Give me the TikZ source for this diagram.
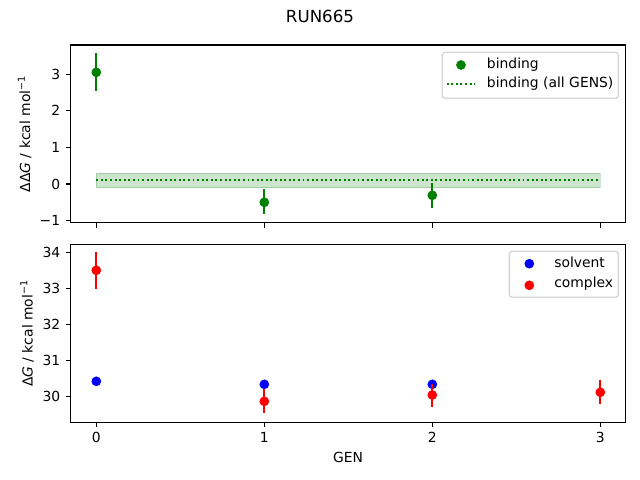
\documentclass[tikz,border=0pt]{standalone}
\usepackage{fontspec}
\setmainfont{DejaVu Sans}
\definecolor{mplgreen}{HTML}{008000}
\definecolor{mplblue}{HTML}{0000FF}
\definecolor{mplred}{HTML}{FF0000}
\definecolor{legedge}{HTML}{D6D6D6}
\tikzset{
  frame/.style={draw=black, line width=0.8pt},
  tick/.style={draw=black, line width=0.8pt},
  ylab/.style={anchor=east, inner sep=0pt, font=\fontsize{10}{12}\selectfont},
  xlab/.style={anchor=north, inner sep=0pt, font=\fontsize{10}{12}\selectfont},
  txt/.style={inner sep=0pt, font=\fontsize{10}{12}\selectfont},
  dot/.style={circle, fill=#1, draw=none, minimum size=7pt, inner sep=0pt},
  ebar/.style={draw=#1, line width=1.5pt},
  legbox/.style={draw=legedge, line width=1pt, fill=white, fill opacity=0.8, rounded corners=2pt},
  dotline/.style={draw=mplgreen, line width=1.5pt, dash pattern=on 1.4pt off 1.9pt},
}
\begin{document}
\begin{tikzpicture}[x=0.72pt, y=-0.72pt]
\useasboundingbox (0,0) rectangle (640,480);
\fill[white] (0,0) rectangle (640,480);

% title
\node[txt, font=\fontsize{12}{14}\selectfont] (title) at (320,16.5) {RUN665};

% ===== top axes =====
\coordinate (t0) at (70.4,45);
\coordinate (t1) at (625.6,222.7);
% band and mean
\fill[mplgreen, fill opacity=0.2] (96.3,173.3) rectangle (600.3,187.7);
\draw[mplgreen, draw opacity=0.2, line width=1pt] (96.3,173.3) rectangle (600.3,187.7);
\coordinate (mA) at (96.3,180);
\coordinate (mB) at (600.3,180);
\draw[dotline] (mA) -- (mB);
% error bars
\coordinate (ta0) at (96.3,53.3);  \coordinate (tb0) at (96.3,90.7);
\coordinate (ta1) at (264.3,189);  \coordinate (tb1) at (264.3,214.3);
\coordinate (ta2) at (432.3,183);  \coordinate (tb2) at (432.3,207.7);
\draw[ebar=mplgreen] (ta0) -- (tb0);
\draw[ebar=mplgreen] (ta1) -- (tb1);
\draw[ebar=mplgreen] (ta2) -- (tb2);
\node[dot=mplgreen] (tp0) at (96.3,72.3) {};
\node[dot=mplgreen] (tp1) at (264.3,202.3) {};
\node[dot=mplgreen] (tp2) at (432.3,195.3) {};
% frame
\draw[frame] (t0) rectangle (t1);
% y ticks
\foreach \v/\lab in {3/3,2/2,1/1,0/0,-1/−1}{
  \pgfmathsetmacro{\yy}{184-36.6*\v}
  \draw[tick] (70.4,\yy) -- (65.54,\yy);
  \node[ylab] (tyl\v) at (60.5,\yy) {\lab};
}
% x ticks (no labels)
\foreach \g in {0,1,2,3}{
  \pgfmathsetmacro{\xx}{96.3+168*\g}
  \draw[tick] (\xx,222.7) -- (\xx,227.56);
}
% y label
\node[txt, rotate=90, anchor=base] (tylabel) at (30,133.9) {ΔΔ\textit{G} / kcal mol\textsuperscript{−1}};
% legend
\draw[legbox] (442.3,52.3) rectangle (618.3,98.3);
\node[dot=mplgreen] (lg1) at (461,65) {};
\node[txt, anchor=west] (lgt1) at (486.7,65) {binding};
\coordinate (lgA) at (446.7,84);
\coordinate (lgB) at (474.3,84);
\draw[dotline] (lgA) -- (lgB);
\node[txt, anchor=west] (lgt2) at (486.7,84) {binding (all GENS)};

% ===== bottom axes =====
\coordinate (b0) at (70.4,244.3);
\coordinate (b1) at (625.6,422.3);
% solvent
\node[dot=mplblue] (bs0) at (96.3,381.3) {};
\node[dot=mplblue] (bs1) at (264.3,384.3) {};
\node[dot=mplblue] (bs2) at (432.3,384.3) {};
% complex
\coordinate (ba0) at (96.3,252.3);  \coordinate (bb0) at (96.3,288.7);
\coordinate (ba1) at (264.3,389.3); \coordinate (bb1) at (264.3,413.3);
\coordinate (ba2) at (432.3,384);   \coordinate (bb2) at (432.3,406.7);
\coordinate (ba3) at (600.3,380);   \coordinate (bb3) at (600.3,403.7);
\draw[ebar=mplred] (ba0) -- (bb0);
\draw[ebar=mplred] (ba1) -- (bb1);
\draw[ebar=mplred] (ba2) -- (bb2);
\draw[ebar=mplred] (ba3) -- (bb3);
\node[dot=mplred] (bc0) at (96.3,270.3) {};
\node[dot=mplred] (bc1) at (264.3,401.3) {};
\node[dot=mplred] (bc2) at (432.3,395) {};
\node[dot=mplred] (bc3) at (600.3,392.3) {};
% frame
\draw[frame] (b0) rectangle (b1);
% y ticks
\foreach \v in {34,33,32,31,30}{
  \pgfmathsetmacro{\yy}{396.7-36*(\v-30)}
  \draw[tick] (70.4,\yy) -- (65.54,\yy);
  \node[ylab] (byl\v) at (60.5,\yy) {\v};
}
% x ticks
\foreach \g in {0,1,2,3}{
  \pgfmathsetmacro{\xx}{96.3+168*\g}
  \draw[tick] (\xx,422.3) -- (\xx,427.16);
  \node[xlab] (bxl\g) at (\xx,432) {\g};
}
% labels
\node[txt] (xlabel) at (348,457.7) {GEN};
\node[txt, rotate=90, anchor=base] (bylabel) at (32.5,333.3) {Δ\textit{G} / kcal mol\textsuperscript{−1}};
% legend
\draw[legbox] (509.3,251.3) rectangle (618.3,297.3);
\node[dot=mplblue] (lb1) at (529.3,263.7) {};
\node[txt, anchor=west] (lbt1) at (554,262.5) {solvent};
\node[dot=mplred] (lb2) at (529.3,285.3) {};
\node[txt, anchor=west] (lbt2) at (554,284.1) {complex};
\end{tikzpicture}
\end{document}
